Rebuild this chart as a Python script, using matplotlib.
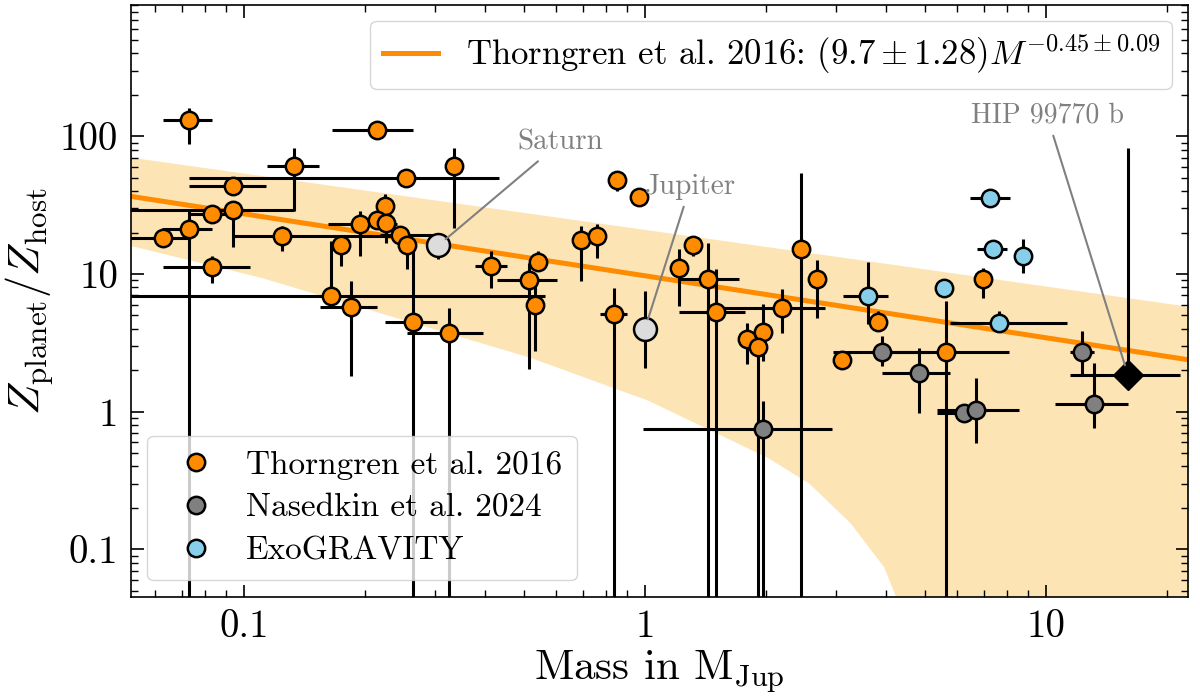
import numpy as np
import matplotlib
matplotlib.use("Agg")
import matplotlib.pyplot as plt
from matplotlib.ticker import FuncFormatter, NullFormatter, LogLocator
from matplotlib.lines import Line2D

plt.rcParams["font.family"] = "serif"
plt.rcParams["font.serif"] = ["cmr10", "DejaVu Serif"]
plt.rcParams["mathtext.fontset"] = "cm"
plt.rcParams["axes.formatter.use_mathtext"] = True

OFF = 1e-3  # lower bound below the axis

# Thorngren et al. 2016: mass, mass range, Z ratio, Z range
th_mass = [0.0729, 0.2147, 0.1332, 0.334, 0.2535, 0.0939, 0.2247, 0.0939, 0.0832, 0.0729,
           0.0628, 0.1244, 0.1947, 0.2147, 0.226, 0.245, 0.255, 0.1745, 0.1648, 0.1848,
           0.0832, 0.2638, 0.3245, 0.413, 0.541, 0.514, 0.532, 0.837, 0.8516, 0.966,
           0.692, 0.759, 1.317, 1.216, 1.436, 1.503, 1.796, 1.969, 1.913, 2.196,
           2.449, 2.685, 3.81, 3.10, 6.965, 5.63]
th_mass_lo = [0.0628, 0.1658, 0.1141, 0.334, 0.0729, 0.0729, 0.2247, 0.052, 0.0729, 0.0625,
              0.052, 0.0939, 0.162, 0.2147, 0.226, 0.218, 0.255, 0.1745, 0.052, 0.1547,
              0.0628, 0.2247, 0.255, 0.377, 0.541, 0.4275, 0.532, 0.772, 0.8516, 0.966,
              0.692, 0.759, 1.317, 1.216, 1.216, 1.216, 1.796, 1.969, 1.913, 1.512,
              2.449, 2.685, 3.81, 3.10, 6.965, 3.855]
th_mass_hi = [0.0832, 0.2638, 0.1538, 0.334, 0.432, 0.1135, 0.2247, 0.1332, 0.095, 0.0832,
              0.0729, 0.245, 0.241, 0.2147, 0.226, 0.304, 0.255, 0.1745, 0.563, 0.2147,
              0.1035, 0.303, 0.3945, 0.453, 0.541, 0.6035, 0.532, 0.902, 0.8516, 0.966,
              0.692, 0.759, 1.317, 1.216, 1.716, 1.776, 1.796, 1.969, 1.913, 2.81,
              2.449, 2.685, 3.81, 3.10, 6.965, 8.09]
th_z = [132, 111.7, 61.2, 61.2, 50.1, 43.8, 31.3, 29.3, 27.4, 21.3,
        18.3, 19.0, 23.2, 24.8, 23.6, 19.3, 16.1, 16.1, 6.96, 5.79,
        11.3, 4.50, 3.75, 11.5, 12.3, 9.09, 5.98, 5.15, 48.4, 36.4,
        17.7, 19.0, 16.3, 11.1, 9.25, 5.32, 3.39, 3.81, 2.97, 5.69,
        15.3, 9.25, 4.50, 2.39, 9.25, 2.73]
th_z_lo = [88.3, 111.7, 28.8, 21.7, 50.1, 43.8, 26.5, 15.8, 27.4, OFF,
           18.3, 14.8, 13.6, 24.8, 16.9, 19.3, 10.9, 11.5, 6.96, 1.83,
           8.64, OFF, OFF, 7.95, 10.6, 2.05, 2.77, OFF, 40.3, 36.4,
           8.94, 13.1, 13.6, 5.89, OFF, OFF, 2.23, 2.35, OFF, 3.75,
           OFF, 4.82, 3.87, 2.05, 6.73, OFF]
th_z_hi = [161, 111.7, 82.7, 82.7, 50.1, 43.8, 38.3, 29.3, 27.4, 29.8,
           18.3, 22.4, 28.8, 24.8, 23.6, 19.3, 16.1, 19.0, 17.5, 8.94,
           13.6, 16.6, 5.69, 14.8, 14.8, 12.1, 8.5, 7.95, 48.4, 36.4,
           22.4, 23.2, 16.3, 15.3, 16.9, 10.9, 4.43, 6.09, 3.56, 7.82,
           54.4, 12.7, 5.41, 2.77, 11.1, 6.4]

# Nasedkin et al. 2024
na_mass = [1.969, 3.90, 4.82, 6.25, 6.69, 12.3, 13.2]
na_mass_lo = [0.989, 2.94, 3.90, 5.35, 5.35, 11.5, 10.5]
na_mass_hi = [2.93, 5.14, 5.76, 6.25, 8.56, 13.2, 16.0]
na_z = [0.752, 2.73, 1.92, 0.983, 1.034, 2.73, 1.14]
na_z_lo = [OFF, 2.16, 0.983, 0.983, 0.596, 1.89, 0.765]
na_z_hi = [1.2, 3.56, 2.92, 0.983, 1.77, 3.87, 2.27]

# ExoGRAVITY
eg_mass = [7.25, 7.38, 8.76, 5.57, 3.60, 7.64]
eg_mass_lo = [6.46, 6.73, 8.76, 5.57, 3.12, 5.76]
eg_mass_hi = [8.13, 7.99, 8.76, 5.57, 4.04, 11.3]
eg_z = [35.8, 15.3, 13.6, 7.95, 6.96, 4.43]
eg_z_lo = [35.8, 15.3, 10.2, 7.95, 4.36, 3.87]
eg_z_hi = [35.8, 15.3, 18.0, 7.95, 12.3, 5.41]

# Solar system planets and HIP 99770 b
ss_names = ["Saturn", "Jupiter"]
ss_mass = [0.305, 1.0]
ss_z = [16.1, 4.01]
ss_z_lo = [12.9, 2.09]
ss_z_hi = [19.0, 7.56]

hip_mass, hip_mass_lo, hip_mass_hi = 16.0, 11.5, 21.6
hip_z, hip_z_lo, hip_z_hi = 1.86, 1.545, 82.7

# fit and its band
fit_a, fit_b = 9.7, -0.45
band_up_mass = [0.0522, 3.25, 22.6]
band_up_z = [70, 12.9, 5.79]
band_lo_mass = [0.0522, 0.11, 0.516, 1.02, 2.03, 2.57, 3.26, 3.95, 4.23, 4.6, 22.6]
band_lo_z = [16.0, 9.4, 2.47, 1.2, 0.46, 0.30, 0.154, 0.074, 0.045, 0.01, 0.01]

xlim = (0.0522, 22.6)
ylim = (0.045, 900)

colors = {"th": "darkorange", "na": "grey", "eg": "skyblue"}
MS = 12.5
MEW = 1.8
ELW = 2.2


def draw_group(ax, m, mlo, mhi, z, zlo, zhi, color):
    m, z = np.array(m), np.array(z)
    xerr = [m - np.array(mlo), np.array(mhi) - m]
    yerr = [z - np.array(zlo), np.array(zhi) - z]
    ax.errorbar(m, z, xerr=xerr, yerr=yerr, fmt="o", ms=MS, mfc=color,
                mec="black", mew=MEW, ecolor="black", elinewidth=ELW,
                capsize=0, zorder=3)


fig = plt.figure(figsize=(12, 7), dpi=100)
ax = fig.add_axes([0.109, 0.147, 0.881, 0.846])
ax.set_xscale("log")
ax.set_yscale("log")

poly_m = np.concatenate([band_up_mass, band_lo_mass[::-1]])
poly_z = np.concatenate([band_up_z, band_lo_z[::-1]])
ax.fill(poly_m, poly_z, color="#fde4b4", lw=0, zorder=1)

mgrid = np.logspace(np.log10(xlim[0]), np.log10(xlim[1]), 100)
ax.plot(mgrid, fit_a * mgrid ** fit_b, color="darkorange", lw=3.6, zorder=2)

draw_group(ax, th_mass, th_mass_lo, th_mass_hi, th_z, th_z_lo, th_z_hi, colors["th"])
draw_group(ax, na_mass, na_mass_lo, na_mass_hi, na_z, na_z_lo, na_z_hi, colors["na"])
draw_group(ax, eg_mass, eg_mass_lo, eg_mass_hi, eg_z, eg_z_lo, eg_z_hi, colors["eg"])

ss_m, ss_zz = np.array(ss_mass), np.array(ss_z)
ax.errorbar(ss_m, ss_zz, yerr=[ss_zz - np.array(ss_z_lo), np.array(ss_z_hi) - ss_zz],
            fmt="o", ms=16.5, mfc="#dcdcdc", mec="black", mew=MEW, ecolor="black",
            elinewidth=ELW, capsize=0, zorder=3)
ax.errorbar([hip_mass], [hip_z], xerr=[[hip_mass - hip_mass_lo], [hip_mass_hi - hip_mass]],
            yerr=[[hip_z - hip_z_lo], [hip_z_hi - hip_z]], fmt="D", ms=15,
            mfc="black", mec="black", ecolor="black", elinewidth=ELW, capsize=0, zorder=4)

ann = dict(arrowstyle="-", color="grey", lw=1.5, shrinkA=3, shrinkB=7)
ax.annotate("Saturn", xy=(ss_mass[0], ss_z[0]), xytext=(0.614, 89.9), ha="center",
            va="center", color="grey", fontsize=21, arrowprops=ann, zorder=5)
ax.annotate("Jupiter", xy=(ss_mass[1], ss_z[1]), xytext=(1.295, 43.0), ha="center",
            va="center", color="grey", fontsize=21, arrowprops=ann, zorder=5)
ax.annotate("HIP 99770 b", xy=(hip_mass, hip_z), xytext=(10.06, 141), ha="center",
            va="center", color="grey", fontsize=20, arrowprops=ann, zorder=5)

ax.set_xlim(*xlim)
ax.set_ylim(*ylim)

fmt = FuncFormatter(lambda v, p: "%g" % v)
ax.xaxis.set_major_formatter(fmt)
ax.yaxis.set_major_formatter(fmt)
ax.xaxis.set_minor_formatter(NullFormatter())
ax.yaxis.set_minor_formatter(NullFormatter())
ax.xaxis.set_minor_locator(LogLocator(base=10, subs=np.arange(2, 10)))
ax.yaxis.set_minor_locator(LogLocator(base=10, subs=np.arange(2, 10)))
ax.tick_params(which="both", direction="in", top=True, right=True, labelsize=28)
ax.tick_params(which="major", length=9, width=1.2, pad=9)
ax.tick_params(which="minor", length=5, width=1.0)
for s in ax.spines.values():
    s.set_linewidth(1.2)

ax.set_xlabel(r"Mass in M$_\mathrm{Jup}$", fontsize=31, labelpad=2)
ax.set_ylabel(r"$Z_\mathrm{planet}/Z_\mathrm{host}$", fontsize=32, labelpad=3)

fit_handle = Line2D([], [], color="darkorange", lw=3.6)
leg1 = ax.legend([fit_handle],
                 [r"Thorngren et al. 2016: $(9.7 \pm 1.28)M^{-0.45\pm0.09}$"],
                 loc="upper right", fontsize=25, handlelength=1.6, borderaxespad=0.45,
                 borderpad=0.35)
ax.add_artist(leg1)

pt_handles = [Line2D([], [], ls="none", marker="o", ms=MS, mfc=colors[k], mec="black",
                     mew=MEW) for k in ("th", "na", "eg")]
ax.legend(pt_handles, ["Thorngren et al. 2016", "Nasedkin et al. 2024", "ExoGRAVITY"],
          loc="lower left", fontsize=24, handletextpad=0.5, borderaxespad=0.5,
          labelspacing=0.4, borderpad=0.45)

fig.savefig("out.png", dpi=100)
